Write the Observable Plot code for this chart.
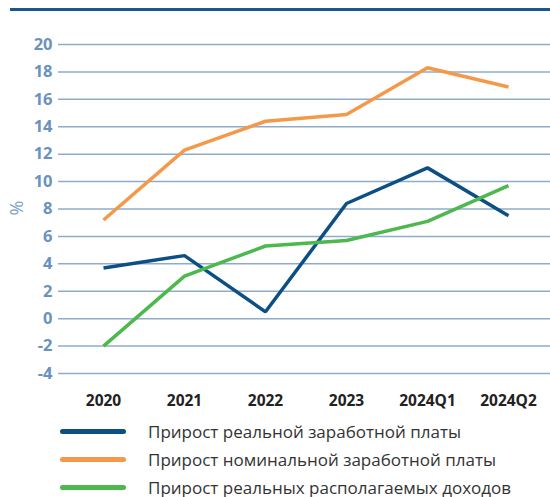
<!DOCTYPE html>
<html><head><meta charset="utf-8">
<script src="https://cdn.jsdelivr.net/npm/d3@7"></script>
<script src="https://cdn.jsdelivr.net/npm/@observablehq/plot@0.6"></script>
<style>
body{margin:0;background:#fff;font-family:"Open Sans",sans-serif;}
#wrap{position:relative;width:550px;}
#topline{position:absolute;left:10px;top:8px;width:540px;height:3px;background:#155a8a;}
#legend{margin-top:2px;}
.item{display:flex;align-items:center;height:28px;}
.sw{width:66px;height:5px;border-radius:3px;margin-left:60px;margin-right:22px;}
.lab{font-size:17px;color:#333;}
</style></head>
<body><div id="wrap"><div id="topline"></div><div id="chart"></div><div id="legend"></div></div>
<script>
const categories = ["2020","2021","2022","2023","2024Q1","2024Q2"];
const seriesNames = ["Прирост реальной заработной платы","Прирост номинальной заработной платы","Прирост реальных располагаемых доходов"];
const realWage = [3.7, 4.6, 0.5, 8.4, 11.0, 7.5];
const nominalWage = [7.2, 12.3, 14.4, 14.9, 18.3, 16.9];
const realIncome = [-2.0, 3.1, 5.3, 5.7, 7.1, 9.7];
const yTicks = [-4,-2,0,2,4,6,8,10,12,14,16,18,20];
const colors = ["#0b4f85","#f4994a","#4cb84e"];

const all = [realWage, nominalWage, realIncome];
const data = [];
all.forEach((arr, s) => arr.forEach((v, i) => data.push({series: seriesNames[s], cat: categories[i], value: v})));

const chart = Plot.plot({
  width: 550, height: 415,
  marginLeft: 58, marginRight: 0, marginTop: 30, marginBottom: 30,
  x: {type: "point", domain: categories, range: [101, 509], padding: 0, label: null},
  y: {domain: [-4, 20], range: [373, 44], label: null},
  color: {domain: seriesNames, range: colors},
  style: {fontFamily: "'Open Sans', sans-serif"},
  marks: [
    Plot.ruleY(yTicks, {stroke: "#8fabcc", strokeWidth: 1.5}),
    Plot.axisY({ticks: yTicks, tickSize: 0, tickPadding: 6, label: null, fill: "#6a92be", fontSize: 16.5, fontWeight: "bold", tickFormat: d => String(d)}),
    Plot.axisX({tickSize: 0, tickPadding: 9, label: null, fill: "#222", fontSize: 15.5, fontWeight: "bold"}),
    Plot.text(["%"], {frameAnchor: "left", dx: -41, dy: 0, rotate: -90, fill: "#7b9fc6", fontSize: 18, textAnchor: "middle"}),
    Plot.line(data, {x: "cat", y: "value", z: "series", stroke: "series", strokeWidth: 3.5, strokeLinejoin: "miter", strokeLinecap: "butt"})
  ]
});
document.getElementById("chart").appendChild(chart);

const leg = document.getElementById("legend");
seriesNames.forEach((n, i) => {
  const d = document.createElement("div"); d.className = "item";
  d.innerHTML = `<div class="sw" style="background:${colors[i]}"></div><div class="lab">${n}</div>`;
  leg.appendChild(d);
});
</script></body></html>
